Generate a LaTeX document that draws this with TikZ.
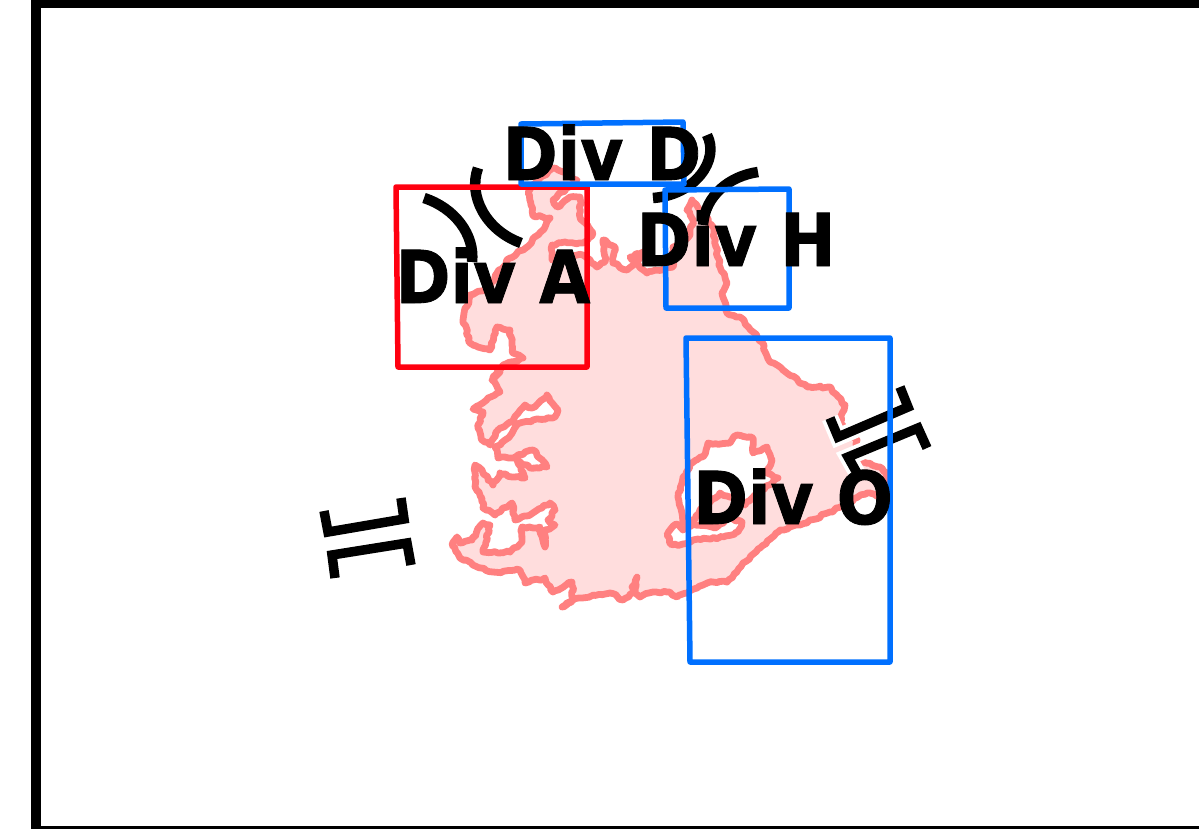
\documentclass[tikz,border=0pt]{standalone}
\usepackage{fontspec}
\setmainfont{DejaVu Sans}
\usetikzlibrary{decorations.pathmorphing}
\definecolor{coast}{HTML}{FF8080}
\definecolor{land}{HTML}{FFDDDD}
\definecolor{boxblue}{HTML}{0070FF}
\definecolor{boxred}{HTML}{FF0010}
\tikzset{
  rough/.style={decorate,decoration={random steps,segment length=3.5pt,amplitude=1.3pt}},
  coastline/.style={draw=coast,line width=6.8pt,line join=round,line cap=round,rough},
  divbox/.style={line width=5.5pt,line join=round},
  blackarc/.style={draw=black,line width=10.5pt},
  bracketline/.style={draw=black,line width=9.5pt,line join=miter},
  bracketback/.style={draw=white,line width=17pt,line join=miter},
  divlabel/.style={font=\bfseries\addfontfeatures{FakeBold=1.2}\fontsize{73}{73}\selectfont,inner sep=0pt,anchor=base,text=black,xscale=0.905}
}
\begin{document}
\begin{tikzpicture}[x=1pt,y=-1pt]
\useasboundingbox (0,0) rectangle (1199,828);
\clip (0,0) rectangle (1199,828);
\draw[line width=10pt,line join=miter] (36,3) -- (1300,3) -- (1300,831) -- (36,831) -- cycle;
% land
\draw[coastline,fill=land]
 (555,168)--(540,178)--(528,193)--(531,205)--(533,216)--(550,218)--(545,227)--(527,247)--(510,258)--(497,273)--(490,287)--(470,295)--(463,320)--(470,343)--(490,350)--(497,327)--(510,330)--(513,353)--(523,358)--(503,365)--(493,377)
 --(500,372)--(492,380)--(500,392)--(488,398)--(473,409)--(483,412)--(478,428)--(482,440)--(490,445)--(498,430)--(512,422)--(525,405)--(532,408)--(547,395)--(558,410)--(555,417)--(533,420)--(520,423)--(505,440)--(495,447)--(498,458)--(513,458)--(533,450)--(547,467)--(530,468)--(517,460)--(525,478)--(512,477)--(500,473)--(493,485)--(482,470)--(475,465)--(475,487)--(482,498)--(483,508)--(495,515)--(512,503)--(515,520)--(530,515)--(550,503)--(555,510)--(548,520)--(555,525)--(545,530)--(545,547)--(540,527)--(522,527)--(522,542)--(510,552)--(498,553)--(483,552)--(490,525)--(483,523)--(472,540)--(460,543)--(457,537)--(452,545)--(460,558)--(473,565)--(493,572)--(520,570)--(525,583)--(545,578)--(553,592)--(572,582)--(573,600)--(562,607)--(573,600)--(582,598)--(610,593)--(623,600)--(635,592)--(637,577)--(632,587)--(640,597)--(653,592)--(667,592)--(677,597)--(697,588)
 --(713,582)--(727,582)--(750,557)--(760,548)--(780,530)--(800,525)--(830,512)--(867,493)--(888,497)--(887,473)--(880,467)--(863,462)--(857,465)--(857,440)--(840,423)--(845,405)--(830,387)--(807,387)--(783,370)--(770,362)--(762,342)--(740,317)--(727,313)--(722,293)--(727,283)--(720,267)--(713,227)--(692,200)--(687,210)--(693,220)--(690,235)--(673,247)--(673,267)--(647,273)--(630,257)--(647,250)--(627,270)--(613,263)--(615,247)--(603,240)--(605,262)--(597,267)--(583,255)--(552,260)--(552,245)--(565,242)--(583,243)--(593,233)--(580,217)--(580,197)--(570,197)--(557,207)--(553,200)--(577,180)--cycle;
% inner water
\draw[coastline,fill=white]
 (683,477)--(692,463)--(703,457)--(708,443)--(730,443)--(737,435)--(753,438)--(753,453)--(767,447)--(772,460)--(767,473)--(778,478)--(755,495)--(745,505)--(730,497)--(720,493)--(703,507)--(693,520)--(683,522)--(678,497)--cycle;
\draw[coastline,fill=white]
 (693,540)--(723,537)--(738,532)--(742,522)--(728,518)--(715,528)--(693,524)--(683,530)--(676,524)--(667,535)--(672,545)--(683,544)--cycle;
% arcs
\draw[blackarc] (424,198) .. controls (455,208) and (475,235) .. (472,262);
\draw[blackarc] (478,168) .. controls (468,195) and (485,230) .. (521,243);
\draw[blackarc] (707,135) .. controls (720,160) and (695,195) .. (653,198);
\draw[blackarc] (758,172) .. controls (730,176) and (705,195) .. (703,225);
% brackets
\draw[bracketline] (324,511) -- (328,532) -- (404,519) -- (401,498);
\draw[bracketline] (335,578) -- (332,555) -- (407,543) -- (411,565);
\draw[bracketback] (830,418) -- (838,437) -- (908,407) -- (900,387);
\draw[bracketback] (857,473) -- (848,457) -- (918,428) -- (927,448);
\draw[bracketline] (830,418) -- (838,437) -- (908,407) -- (900,387);
\draw[bracketline] (857,473) -- (848,457) -- (918,428) -- (927,448);
% boxes
\draw[divbox,draw=boxred] (396,187) -- (587,187) -- (587,367) -- (398,367) -- cycle;
\draw[divbox,draw=boxblue] (521,124) -- (683,122) -- (684,184) -- (521,184) -- cycle;
\draw[divbox,draw=boxblue] (665,190) -- (789,189) -- (789,308) -- (666,308) -- cycle;
\draw[divbox,draw=boxblue] (686,338) -- (890,338) -- (890,662) -- (690,662) -- cycle;
% labels
\node[divlabel] (diva) at (493,303) {Div A};
\node[divlabel] (divd) at (602,180) {Div D};
\node[divlabel] (divh) at (736,266) {Div H};
\node[divlabel] (divo) at (793,524) {Div O};
\end{tikzpicture}
\end{document}
